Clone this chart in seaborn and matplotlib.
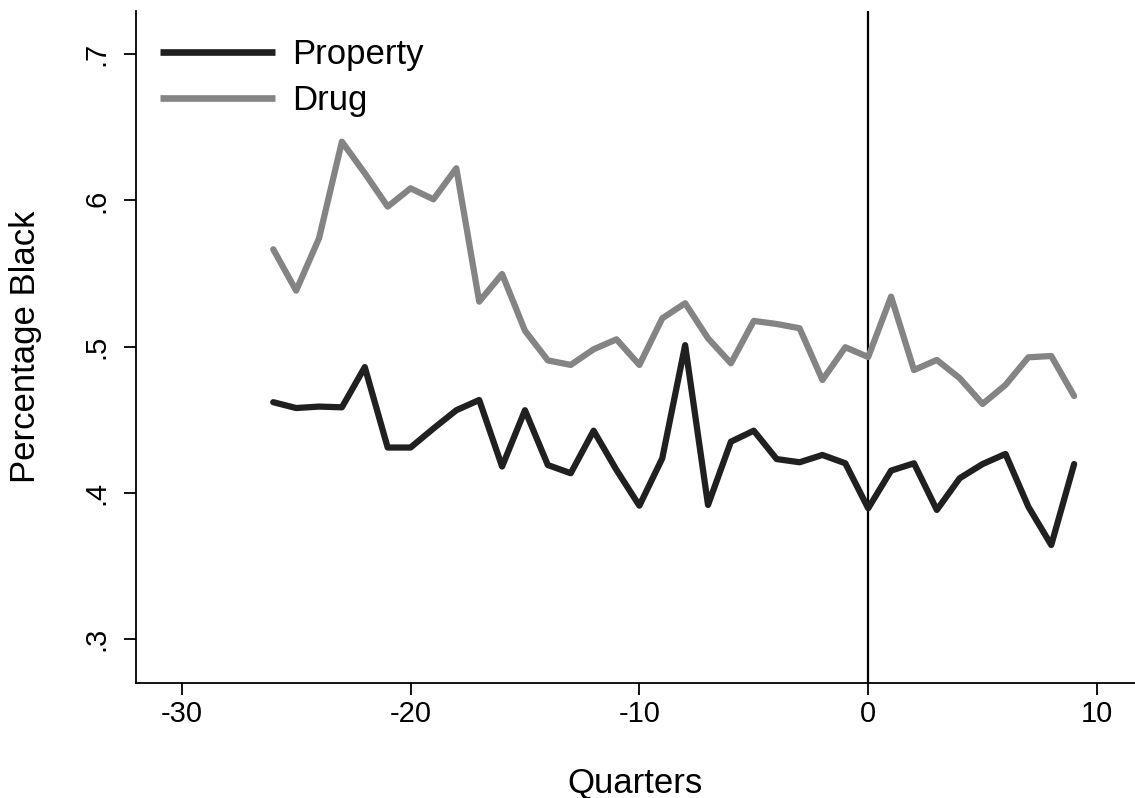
import matplotlib
matplotlib.use("Agg")
import matplotlib.pyplot as plt
import seaborn as sns
import pandas as pd

# Quarters relative to the policy change
quarters = list(range(-26, 10))

# Share of arrestees who are Black, by offence type
property_share = [0.462, 0.458, 0.459, 0.4585, 0.486, 0.431, 0.431, 0.444, 0.4565,
                  0.4635, 0.418, 0.4565, 0.419, 0.4134, 0.4425, 0.4156, 0.3912,
                  0.4236, 0.501, 0.3917, 0.435, 0.4425, 0.4231, 0.4209, 0.4259,
                  0.4202, 0.3894, 0.4152, 0.4202, 0.3883, 0.410, 0.4197, 0.4266,
                  0.3905, 0.3643, 0.4197]
drug_share = [0.5666, 0.5383, 0.5741, 0.6402, 0.6186, 0.5958, 0.6083, 0.6008, 0.622,
              0.5308, 0.5497, 0.5109, 0.4906, 0.4875, 0.4982, 0.505, 0.4875, 0.5194,
              0.5297, 0.5057, 0.4886, 0.5176, 0.5155, 0.5126, 0.4772, 0.4996, 0.4929,
              0.5342, 0.484, 0.4909, 0.4784, 0.4608, 0.4738, 0.4927, 0.4936, 0.4662]

series_names = ["Property", "Drug"]
series_colors = {"Property": "#202020", "Drug": "#848484"}

x_ticks = [-30, -20, -10, 0, 10]
y_ticks = [0.3, 0.4, 0.5, 0.6, 0.7]
y_tick_labels = [".3", ".4", ".5", ".6", ".7"]

df = pd.DataFrame({
    "Quarters": quarters * 2,
    "Share": property_share + drug_share,
    "Crime": ["Property"] * len(quarters) + ["Drug"] * len(quarters),
})

sns.set_style("ticks")
plt.rcParams["font.family"] = ["Liberation Sans", "DejaVu Sans"]
plt.rcParams["text.color"] = "black"
plt.rcParams["axes.labelcolor"] = "black"

fig = plt.figure(figsize=(11.35, 7.98), dpi=100)
ax = fig.add_axes([0.1198, 0.1441, 0.8802, 0.8421])

sns.lineplot(data=df, x="Quarters", y="Share", hue="Crime", hue_order=series_names,
             palette=series_colors, linewidth=4.5, ax=ax, legend=False)
ax.axvline(0, color="black", linewidth=1.6, zorder=1)

ax.set_xlim(-32.0, 11.66)
ax.set_ylim(0.2699, 0.7296)
ax.set_xticks(x_ticks)
ax.set_xticklabels([str(t) for t in x_ticks])
ax.set_yticks(y_ticks)
ax.set_yticklabels(y_tick_labels)
for lab in ax.get_yticklabels():
    lab.set_rotation(90)
    lab.set_va("center")

ax.tick_params(axis="both", direction="out", length=8.5, width=1.3, color="black",
               labelsize=21, labelcolor="black")
ax.tick_params(axis="x", pad=4)
ax.tick_params(axis="y", pad=10)

for side in ["top", "right"]:
    ax.spines[side].set_visible(False)
for side in ["left", "bottom"]:
    ax.spines[side].set_color("black")
    ax.spines[side].set_linewidth(1.3)

ax.set_xlabel("Quarters", fontsize=25, color="black")
ax.set_ylabel("Percentage Black", fontsize=25, color="black")
ax.xaxis.set_label_coords(0.5, -0.125)
ax.yaxis.set_label_coords(-0.094, 0.5)

handles = [plt.Line2D([], [], color=series_colors[n], linewidth=4.8,
                      solid_capstyle="butt") for n in series_names]
ax.legend(handles, series_names, loc="upper left", bbox_to_anchor=(0.024, 0.96),
          frameon=False, fontsize=25, handlelength=3.3, handletextpad=0.52,
          labelspacing=0.375, borderpad=0, borderaxespad=0, labelcolor="black")

fig.savefig("out.png", dpi=100)
